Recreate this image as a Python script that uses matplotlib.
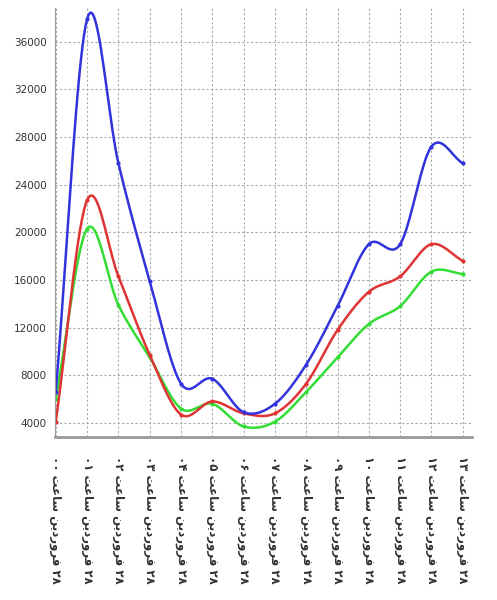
import numpy as np
import matplotlib
matplotlib.use("Agg")
import matplotlib.pyplot as plt

hours = ["۰۰", "۰۱", "۰۲", "۰۳", "۰۴", "۰۵", "۰۶", "۰۷", "۰۸", "۰۹", "۱۰", "۱۱", "۱۲", "۱۳"]
labels = ["۲۸ فروردین ساعت " + h for h in hours]

blue = [6600, 37900, 25800, 15900, 7300, 7700, 4900, 5600, 8900, 13800, 19000, 19000, 27200, 25800]
red = [4100, 22700, 16300, 9700, 4700, 5800, 4800, 4800, 7300, 11800, 15000, 16300, 19000, 17600]
green = [6000, 20300, 13900, 9500, 5200, 5600, 3700, 4100, 6600, 9500, 12300, 13800, 16700, 16500]

yticks = [4000, 8000, 12000, 16000, 20000, 24000, 28000, 32000, 36000]

# contextual forms (isolated, final, initial, medial); right-joining letters have only two
FORMS = {
    "ف": "\ufed1\ufed2\ufed3\ufed4",
    "ن": "\ufee5\ufee6\ufee7\ufee8",
    "س": "\ufeb1\ufeb2\ufeb3\ufeb4",
    "ع": "\ufec9\ufeca\ufecb\ufecc",
    "ت": "\ufe95\ufe96\ufe97\ufe98",
    "ی": "\ufbfc\ufbfd\ufbfe\ufbff",
    "ر": "\ufead\ufeae",
    "و": "\ufeed\ufeee",
    "د": "\ufea9\ufeaa",
    "ا": "\ufe8d\ufe8e",
}


def shape_word(word):
    out = []
    for i, ch in enumerate(word):
        if ch not in FORMS:
            out.append(ch)
            continue
        prev = word[i - 1] if i > 0 else None
        nxt = word[i + 1] if i + 1 < len(word) else None
        joins_prev = prev in FORMS and len(FORMS[prev]) == 4
        joins_next = nxt in FORMS and len(FORMS[ch]) == 4
        f = FORMS[ch]
        if joins_prev and joins_next:
            out.append(f[3])
        elif joins_prev:
            out.append(f[1])
        elif joins_next:
            out.append(f[2])
        else:
            out.append(f[0])
    return "".join(out)


def visual(text):
    words = []
    for w in text.split(" "):
        if w[0] in FORMS:
            words.append(shape_word(w)[::-1])
        else:
            words.append(w)
    return " ".join(words[::-1])


def smooth(ys, n=20):
    xs = np.arange(len(ys), dtype=float)
    p = np.array(ys, dtype=float)
    p = np.concatenate([[2 * p[0] - p[1]], p, [2 * p[-1] - p[-2]]])
    sx, sy = [], []
    for i in range(len(ys) - 1):
        p0, p1, p2, p3 = p[i], p[i + 1], p[i + 2], p[i + 3]
        t = np.linspace(0, 1, n, endpoint=False)
        y = 0.5 * (2 * p1 + (-p0 + p2) * t + (2 * p0 - 5 * p1 + 4 * p2 - p3) * t ** 2
                   + (-p0 + 3 * p1 - 3 * p2 + p3) * t ** 3)
        sx.extend(xs[i] + t)
        sy.extend(y)
    sx.append(xs[-1])
    sy.append(ys[-1])
    return np.array(sx), np.array(sy)


fig = plt.figure(figsize=(4.97, 6.0), dpi=100)
ax = fig.add_axes([0.111, 0.272, 0.839, 0.715])

x = np.arange(len(labels))
for vals, color in [(green, "#33dd33"), (red, "#e03333"), (blue, "#3333dd")]:
    sx, sy = smooth(vals)
    ax.plot(sx, sy, color=color, lw=1.8, solid_capstyle="round")
    ax.plot(x, vals, "o", color=color, ms=3, mec="none")

ax.set_xlim(-0.02, 13.3)
ax.set_ylim(2830, 38850)
ax.set_yticks(yticks)
ax.set_yticklabels([str(v) for v in yticks], fontsize=7.5, color="#333333")
ax.set_xticks(x)
ax.set_xticklabels([visual(l) for l in labels], rotation=270, fontsize=8.5,
                   fontweight="bold", color="#333333", family="DejaVu Sans")
ax.tick_params(axis="y", length=0, pad=6)
ax.tick_params(axis="x", length=0, pad=14)
ax.grid(True, color="#aaaaaa", linestyle=(0, (2, 2)), lw=0.8)
for s in ["top", "right"]:
    ax.spines[s].set_visible(False)
ax.spines["left"].set_color("#999999")
ax.spines["bottom"].set_color("#999999")
ax.spines["bottom"].set_linewidth(2)

fig.savefig("out.png", dpi=100)
